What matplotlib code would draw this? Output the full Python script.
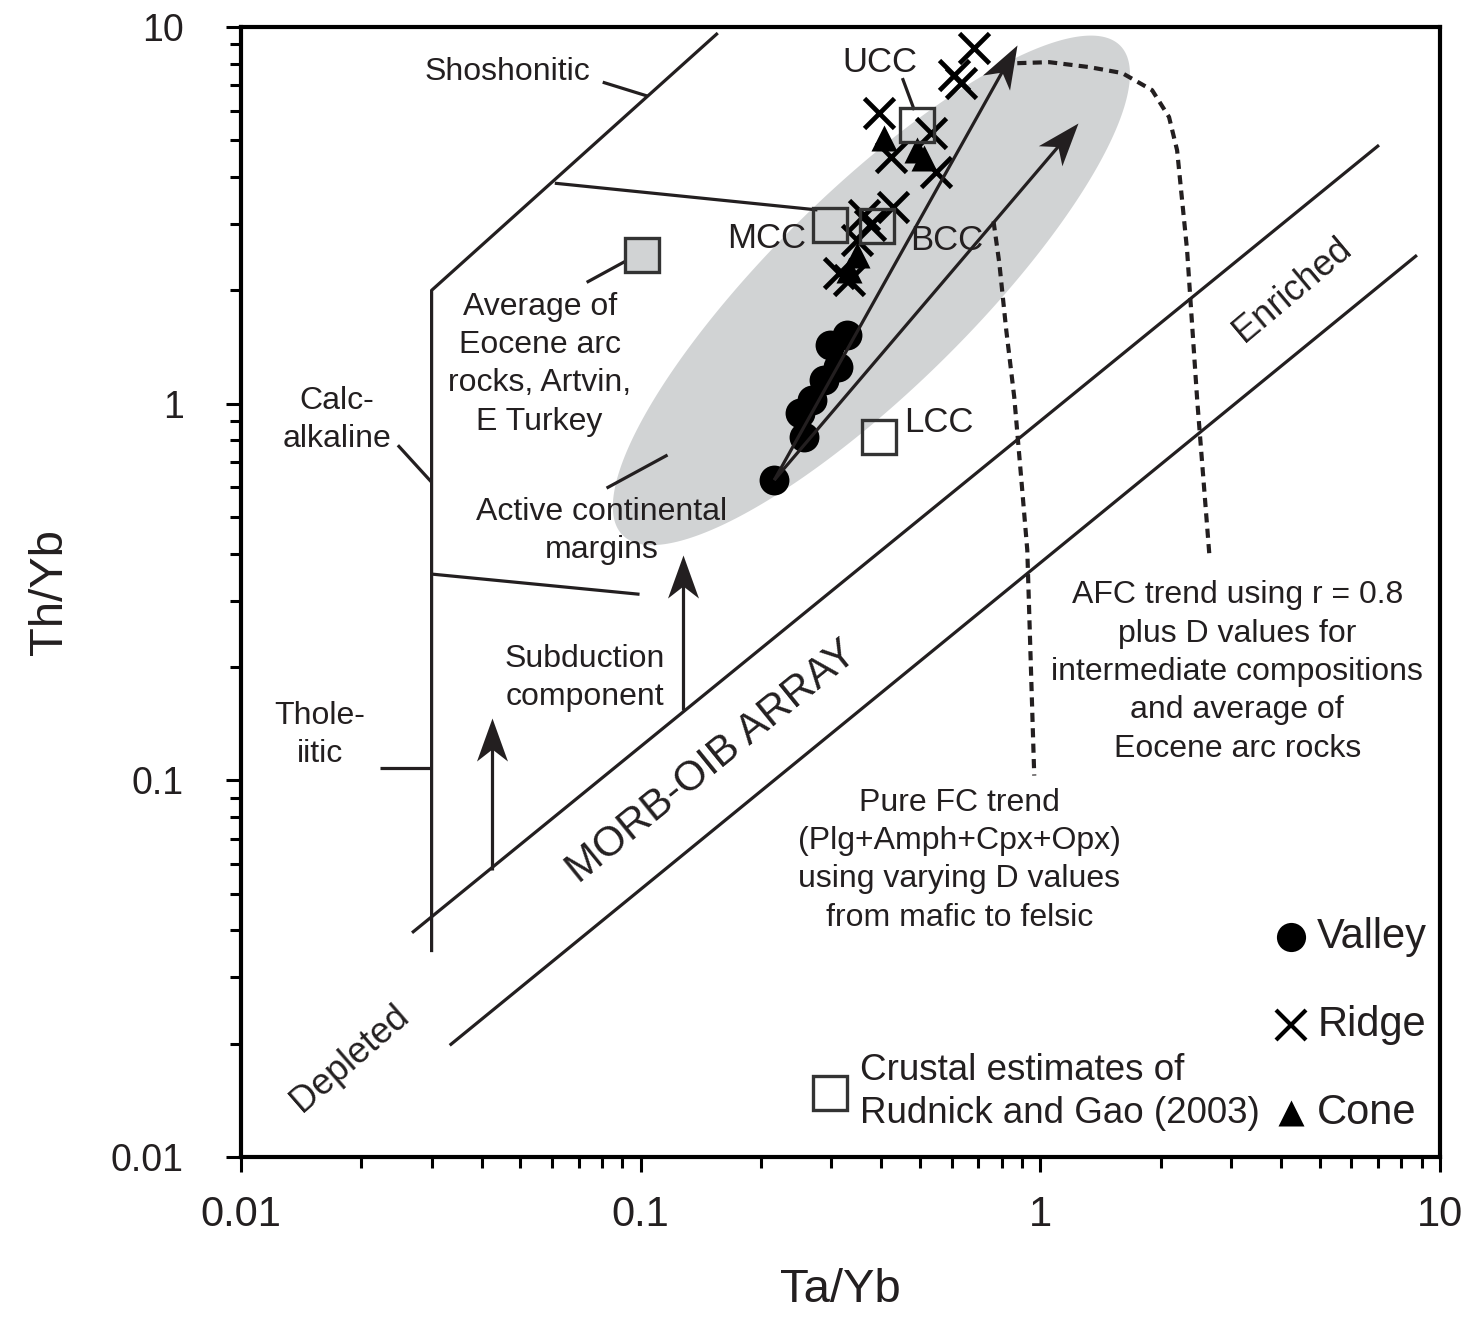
import numpy as np
import matplotlib.pyplot as plt
from matplotlib.path import Path
from matplotlib.markers import MarkerStyle
from matplotlib.transforms import Affine2D
from matplotlib.ticker import FixedLocator, FuncFormatter, NullFormatter

plt.rcParams['font.family'] = ['Liberation Sans', 'DejaVu Sans']
ink = '#231f20'
grey = '#d1d3d4'

# Ta/Yb vs Th/Yb for the three groups
valley_ta = [0.216, 0.257, 0.250, 0.268, 0.288, 0.311, 0.297, 0.329]
valley_th = [0.627, 0.815, 0.944, 1.023, 1.156, 1.25, 1.43, 1.52]

ridge_ta = [0.684, 0.610, 0.635, 0.396, 0.534, 0.424, 0.550, 0.427, 0.363, 0.374, 0.347, 0.314, 0.333]
ridge_th = [8.79, 7.46, 7.10, 5.91, 5.23, 4.52, 4.12, 3.33, 3.17, 2.98, 2.72, 2.22, 2.13]

cone_ta = [0.407, 0.493, 0.513, 0.347, 0.333]
cone_th = [5.07, 4.72, 4.49, 2.48, 2.26]

# crustal estimates (Rudnick & Gao 2003)
crust_names = ['UCC', 'MCC', 'BCC', 'LCC']
crust_ta = [0.493, 0.297, 0.391, 0.396]
crust_th = [5.50, 2.98, 2.96, 0.815]

# average Eocene arc rocks, Artvin
eocene_ta, eocene_th = 0.1006, 2.48

# field boundaries
frame_ta = [0.03, 0.03, 0.156]
frame_th = [0.035, 2.0, 9.64]
shosh_ta, shosh_th = [0.061, 0.277], [3.85, 3.27]
thol_ta, thol_th = [0.03, 0.0994], [0.353, 0.312]
morb_hi_ta, morb_hi_th = [0.0268, 7.04], [0.0394, 4.86]
morb_lo_ta, morb_lo_th = [0.0333, 8.76], [0.0198, 2.48]

# subduction component arrows: x, y start, y end
sub_arrows = [(0.0424, 0.0578, 0.146), (0.128, 0.154, 0.396)]

# FC / AFC model trends from the least evolved valley sample
trend_start = (0.216, 0.627)
trend_ends = [(0.876, 8.96), (1.245, 5.56)]

afc_ta = [0.876, 1.053, 1.326, 1.603, 1.905, 2.10, 2.20, 2.33, 2.47, 2.65]
afc_th = [8.02, 8.07, 7.83, 7.55, 6.80, 5.77, 4.71, 2.56, 1.023, 0.396]
fc_ta = [0.764, 0.790, 0.822, 0.861, 0.897, 0.928, 0.966]
fc_th = [3.05, 2.36, 1.57, 1.04, 0.627, 0.409, 0.103]

# active continental margin field (ellipse in log space)
acm_cx, acm_cy = 0.378, 2.0
acm_a, acm_b, acm_ang = 0.90, 0.257, 46.5

fig = plt.figure(figsize=(14.69, 13.21), dpi=100)
ax = fig.add_axes([0.164, 0.1241, 0.8162, 0.8554])
ax.set_xscale('log')
ax.set_yscale('log')
ax.set_xlim(0.01, 10)
ax.set_ylim(0.01, 10)

t = np.linspace(0, 2 * np.pi, 300)
ang = np.radians(acm_ang)
u, v = acm_a * np.cos(t), acm_b * np.sin(t)
lx = np.log10(acm_cx) + u * np.cos(ang) - v * np.sin(ang)
ly = np.log10(acm_cy) + u * np.sin(ang) + v * np.cos(ang)
ax.fill(10 ** lx, 10 ** ly, color=grey, lw=0, zorder=0)

lkw = dict(color=ink, lw=2.3, solid_capstyle='butt', zorder=2)
ax.plot(frame_ta, frame_th, **lkw)
ax.plot(shosh_ta, shosh_th, **lkw)
ax.plot(thol_ta, thol_th, **lkw)
ax.plot(morb_hi_ta, morb_hi_th, **lkw)
ax.plot(morb_lo_ta, morb_lo_th, **lkw)

# label leaders
leaders = [
    ([0.0804, 0.104], [7.14, 6.56]),
    ([0.0247, 0.03], [0.776, 0.619]),
    ([0.0223, 0.03], [0.108, 0.108]),
    ([0.0733, 0.095], [2.10, 2.44]),
    ([0.0822, 0.1168], [0.597, 0.731]),
    ([0.452, 0.484], [7.32, 6.02]),
]
for xs, ys in leaders:
    ax.plot(xs, ys, **lkw)

dkw = dict(color=ink, lw=3.0, dashes=(2.2, 1.5), zorder=2)
ax.plot(afc_ta, afc_th, **dkw)
ax.plot(fc_ta, fc_th, **dkw)

# stealth arrow head, tip at origin pointing along +x
head = Path([(0, 0), (-1, 0.36), (-0.72, 0), (-1, -0.36), (0, 0)],
            [Path.MOVETO, Path.LINETO, Path.LINETO, Path.LINETO, Path.CLOSEPOLY])


def arrow(x0, y0, x1, y1, z=3):
    p0 = ax.transData.transform((x0, y0))
    p1 = ax.transData.transform((x1, y1))
    d = p1 - p0
    deg = np.degrees(np.arctan2(d[1], d[0]))
    # stop the shaft inside the head so the tip stays sharp
    pe = p1 - d / np.hypot(*d) * 25
    xe, ye = ax.transData.inverted().transform(pe)
    ax.plot([x0, xe], [y0, ye], color=ink, lw=2.3, solid_capstyle='butt', zorder=z)
    mk = MarkerStyle(head, transform=Affine2D().rotate_deg(deg))
    ax.plot(x1, y1, marker=mk, ms=62, color=ink, mec='none', zorder=z)


for x, y0, y1 in sub_arrows:
    arrow(x, y0, x, y1)

# data
ax.plot(valley_ta, valley_th, 'o', color='black', ms=21.5, mec='none', zorder=4)
ax.plot(ridge_ta, ridge_th, 'x', color='black', ms=21, mew=3.4, zorder=4)
ax.plot(cone_ta, cone_th, '^', color='black', ms=19, mec='none', zorder=4)
ax.plot(crust_ta, crust_th, 's', ms=24, mfc='none', mec='#333333', mew=2.4, zorder=5)
ax.plot(eocene_ta, eocene_th, 's', ms=24, mfc=grey, mec='#333333', mew=2.4, zorder=5)

for ex, ey in trend_ends:
    arrow(trend_start[0], trend_start[1], ex, ey, z=6)

fs = 23
tkw = dict(color=ink, fontsize=fs, ha='center', va='center', linespacing=1.36, zorder=7)
ax.text(0.0465, 7.59, 'Shoshonitic', **tkw)
ax.text(0.0174, 0.905, 'Calc-\nalkaline', **tkw)
ax.text(0.01575, 0.132, 'Thole-\niitic', **tkw)
ax.text(0.0559, 1.274, 'Average of\nEocene arc\nrocks, Artvin,\nE Turkey', **tkw)
ax.text(0.0799, 0.459, 'Active continental\nmargins', **tkw)
ax.text(0.0724, 0.187, 'Subduction\ncomponent', **tkw)
ax.text(3.11, 0.194, 'AFC trend using r = 0.8\nplus D values for\nintermediate compositions\n'
        'and average of\nEocene arc rocks', **tkw)
ax.text(0.628, 0.0614, 'Pure FC trend\n(Plg+Amph+Cpx+Opx)\nusing varying D values\nfrom mafic to felsic', **tkw)

crust_lab = {'UCC': (0.396, 8.07), 'MCC': (0.2065, 2.75),
             'BCC': (0.582, 2.72), 'LCC': (0.559, 0.894)}
for name in crust_names:
    lx_, ly_ = crust_lab[name]
    ax.text(lx_, ly_, name, color=ink, fontsize=25, ha='center', va='center', zorder=7)

ax.text(0.1505, 0.112, 'MORB-OIB ARRAY', color=ink, fontsize=30, rotation=39,
        ha='center', va='center', rotation_mode='anchor')
ax.text(4.27, 2.00, 'Enriched', color=ink, fontsize=26, rotation=40,
        ha='center', va='center', rotation_mode='anchor')
ax.text(0.0187, 0.0183, 'Depleted', color=ink, fontsize=26, rotation=41,
        ha='center', va='center', rotation_mode='anchor')

# legend
ax.plot(4.24, 0.0384, 'o', color='black', ms=21, mec='none')
ax.plot(4.24, 0.0224, 'x', color='black', ms=21, mew=3)
ax.plot(4.24, 0.0131, '^', color='black', ms=19, mec='none')
ax.plot(0.2985, 0.0148, 's', ms=24, mfc='white', mec='#333333', mew=2.4)
for yy, name in zip([0.0384, 0.0224, 0.0131], ['Valley', 'Ridge', 'Cone']):
    ax.text(4.93, yy, name, color=ink, fontsize=30, ha='left', va='center')
ax.text(0.353, 0.0149, 'Crustal estimates of\nRudnick and Gao (2003)', color=ink,
        fontsize=26.5, ha='left', va='center', linespacing=1.3)

# axes styling
for sp in ax.spines.values():
    sp.set_linewidth(3)
    sp.set_color('black')
dec = [0.01, 0.1, 1, 10]
minor = [m * d for d in [0.01, 0.1, 1] for m in range(2, 10)]
fmt = FuncFormatter(lambda v, p: f'{v:g}')
for axis in (ax.xaxis, ax.yaxis):
    axis.set_major_locator(FixedLocator(dec))
    axis.set_minor_locator(FixedLocator(minor))
    axis.set_major_formatter(fmt)
    axis.set_minor_formatter(NullFormatter())
ax.tick_params(which='major', length=11, width=2.2, color='black')
ax.tick_params(which='minor', length=8, width=2.2, color='black')
ax.tick_params(axis='y', labelsize=27, pad=30, labelcolor=ink)
ax.tick_params(axis='x', labelsize=30, pad=16, labelcolor=ink)
ax.set_xlabel('Ta/Yb', fontsize=34, color=ink, labelpad=24)
ax.set_ylabel('Th/Yb', fontsize=34, color=ink, labelpad=28)

fig.savefig('out.png', dpi=100)
